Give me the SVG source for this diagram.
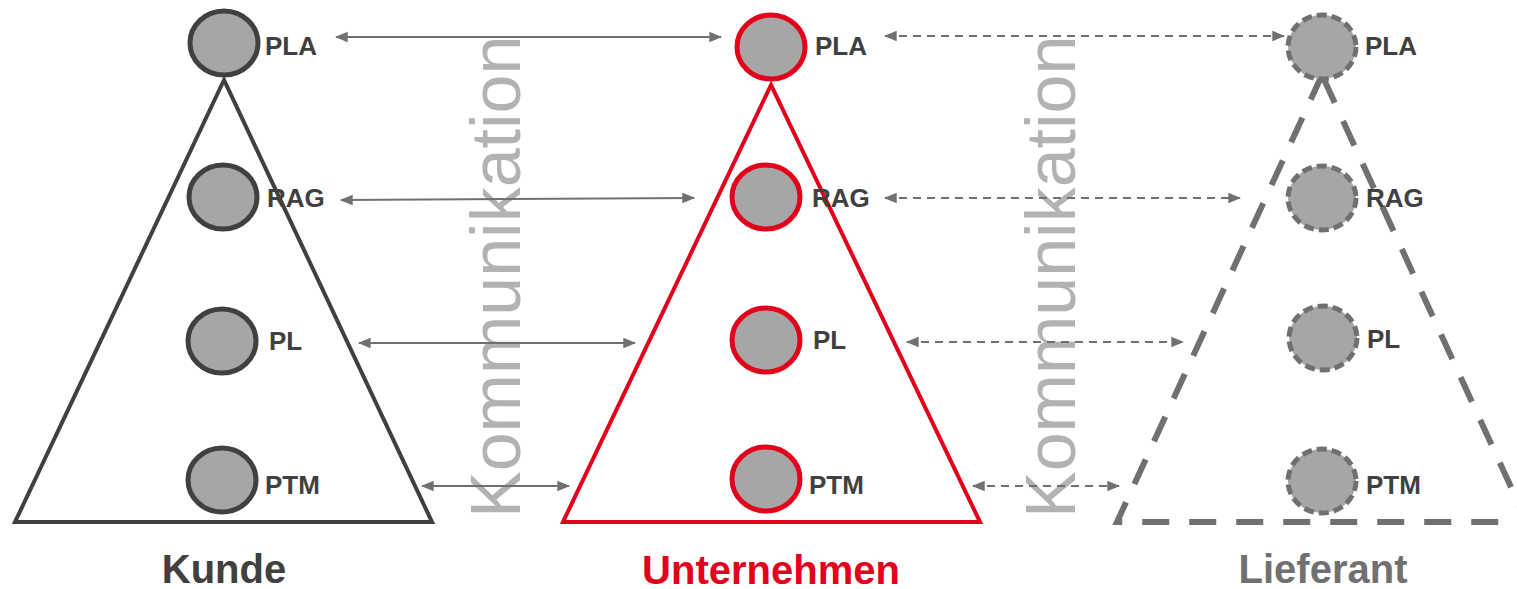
<svg xmlns="http://www.w3.org/2000/svg" width="1517" height="589" viewBox="0 0 1517 589">
<style>
.lbl{font-family:"Liberation Sans",Arial,sans-serif;font-weight:bold;font-size:26px;fill:#404040}
.big{font-family:"Liberation Sans",Arial,sans-serif;font-weight:bold;font-size:40px;text-anchor:middle}
.komm{font-family:"Liberation Sans",Arial,sans-serif;font-size:70px;fill:#B2B2B2}
.ck{fill:#A6A6A6;stroke:#404040;stroke-width:5}
.cu{fill:#A6A6A6;stroke:#E2001A;stroke-width:5}
.cl{fill:#A6A6A6;stroke:#707070;stroke-width:5;stroke-dasharray:10 5}
.solid{stroke:#707070;stroke-width:2;fill:none;marker-start:url(#ah);marker-end:url(#ah)}
.dash{stroke:#707070;stroke-width:2;fill:none;stroke-dasharray:8 6;marker-start:url(#ah);marker-end:url(#ah)}
</style>
<defs>
<marker id="ah" viewBox="0 0 10 10" refX="9" refY="5" markerWidth="6.5" markerHeight="6.5" orient="auto-start-reverse" markerUnits="strokeWidth">
<path d="M0,1 L10,5 L0,9 z" fill="#707070" stroke="none"/>
</marker>
</defs>
<g id="kommunikation-text">
<text class="komm" transform="translate(520,518) rotate(-90)">Kommunikation</text>
<text class="komm" transform="translate(1075,518) rotate(-90)">Kommunikation</text>
</g>
<g id="kunde">
<polygon points="224,80 15,522 432,522" fill="none" stroke="#404040" stroke-width="4"/>
<ellipse class="ck" cx="224" cy="43" rx="34" ry="32"/>
<ellipse class="ck" cx="223" cy="197" rx="34" ry="32"/>
<ellipse class="ck" cx="222" cy="341" rx="34" ry="32"/>
<ellipse class="ck" cx="222" cy="480" rx="34" ry="32"/>
<text class="lbl" x="265" y="55">PLA</text>
<text class="lbl" x="267" y="207">RAG</text>
<text class="lbl" x="269" y="350">PL</text>
<text class="lbl" x="265" y="494">PTM</text>
<text class="big" x="224" y="583" fill="#404040">Kunde</text>
</g>
<g id="unternehmen">
<polygon points="771,85 563,522 980,522" fill="none" stroke="#E2001A" stroke-width="4"/>
<ellipse class="cu" cx="771" cy="47" rx="34" ry="32"/>
<ellipse class="cu" cx="766" cy="197" rx="34" ry="32"/>
<ellipse class="cu" cx="766" cy="340" rx="34" ry="32"/>
<ellipse class="cu" cx="766" cy="479" rx="34" ry="32"/>
<text class="lbl" x="815" y="55">PLA</text>
<text class="lbl" x="812" y="207">RAG</text>
<text class="lbl" x="813" y="349">PL</text>
<text class="lbl" x="809" y="494">PTM</text>
<text class="big" x="771" y="584" fill="#E2001A">Unternehmen</text>
</g>
<g id="lieferant">
<polygon points="1322,75 1117,522 1527,522" fill="none" stroke="#707070" stroke-width="6" stroke-dasharray="27 20"/>
<ellipse class="cl" cx="1322" cy="47" rx="34" ry="32"/>
<ellipse class="cl" cx="1322" cy="198" rx="34" ry="32"/>
<ellipse class="cl" cx="1323" cy="338" rx="34" ry="32"/>
<ellipse class="cl" cx="1322" cy="481" rx="34" ry="32"/>
<text class="lbl" x="1365" y="55">PLA</text>
<text class="lbl" x="1366" y="207">RAG</text>
<text class="lbl" x="1367" y="348">PL</text>
<text class="lbl" x="1366" y="494">PTM</text>
<text class="big" x="1323" y="583" fill="#707070">Lieferant</text>
</g>
<g id="connectors">
<line class="solid" x1="336" y1="37" x2="721" y2="37"/>
<line class="solid" x1="341" y1="200" x2="694" y2="198"/>
<line class="solid" x1="359" y1="343" x2="635" y2="343"/>
<line class="solid" x1="422" y1="486" x2="569" y2="486"/>
<line class="dash" x1="885" y1="36" x2="1284" y2="36"/>
<line class="dash" x1="885" y1="198" x2="1240" y2="198"/>
<line class="dash" x1="907" y1="342" x2="1183" y2="342"/>
<line class="dash" x1="973" y1="486" x2="1119" y2="486"/>
</g>
</svg>
